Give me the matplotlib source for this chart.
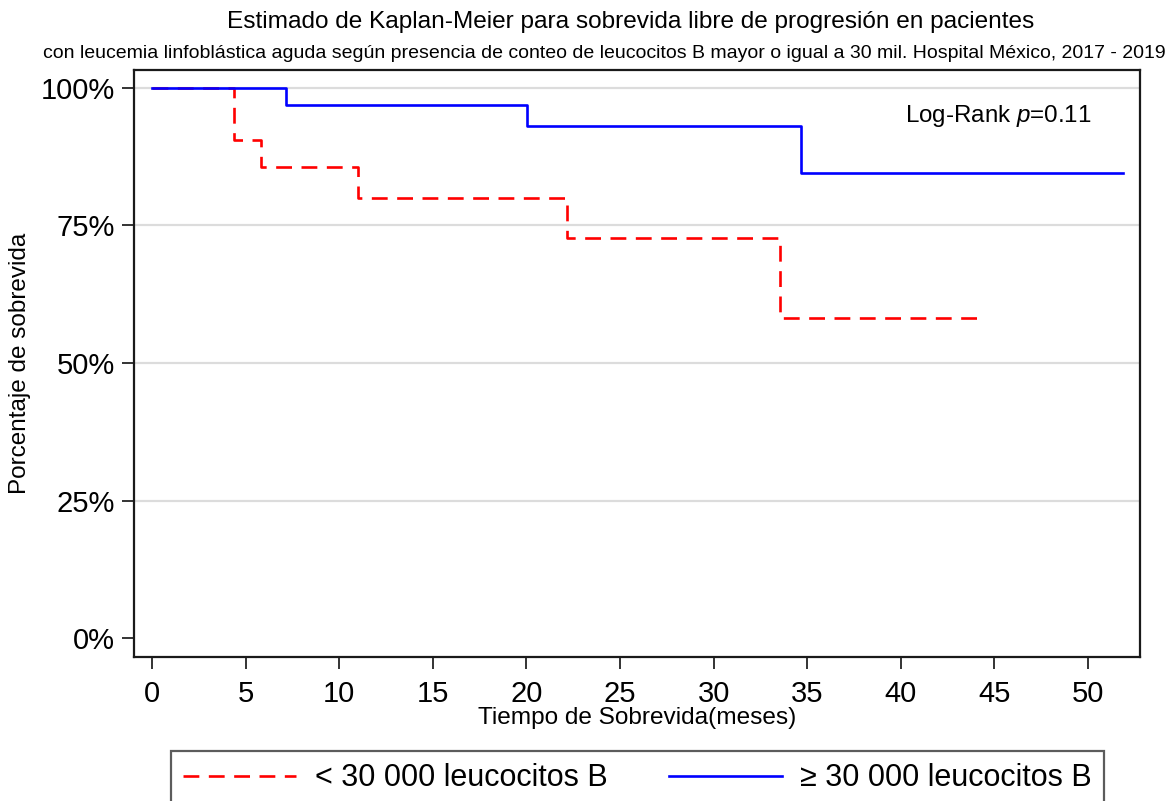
"""
Kaplan-Meier: sobrevida libre de progresion por conteo de leucocitos B.
Writes out.png (1175x801).
"""

import matplotlib
matplotlib.use("Agg")
import matplotlib.pyplot as plt
from matplotlib.lines import Line2D

plt.rcParams["font.family"] = ["Liberation Sans", "DejaVu Sans"]
plt.rcParams["mathtext.fontset"] = "custom"
plt.rcParams["mathtext.rm"] = "Liberation Sans"
plt.rcParams["mathtext.it"] = "Liberation Sans:italic"

# ─── data ──────────────────────────────────────────────────────────
TIME_LOW = [0, 4.38, 5.8, 11.02, 22.15, 33.55, 44.5]
SURV_LOW = [100, 90.5, 85.7, 80.0, 72.7, 58.2, 58.2]
TIME_HIGH = [0, 7.14, 20.05, 34.67, 51.87]
SURV_HIGH = [100, 96.9, 93.0, 84.5, 84.5]

LABEL_LOW = "< 30 000 leucocitos B"
LABEL_HIGH = "≥ 30 000 leucocitos B"

X_TICKS = list(range(0, 55, 5))
Y_TICKS = [0, 25, 50, 75, 100]
Y_TICKLABELS = ["0%", "25%", "50%", "75%", "100%"]
GRID_AT = [25, 50, 75, 100]

TITLE = "Estimado de Kaplan-Meier para sobrevida libre de progresión en pacientes"
SUBTITLE = ("con leucemia linfoblástica aguda según presencia de conteo de leucocitos B "
            "mayor o igual a 30 mil. Hospital México, 2017 - 2019")

W, H = 1175, 801
fig = plt.figure(figsize=(W / 100, H / 100), dpi=100)
fig.patch.set_facecolor("white")

# axes box in pixels: left 134, right 1140, top 70, bottom 657
ax = fig.add_axes([134 / W, 1 - 657 / H, (1140 - 134) / W, (657 - 70) / H])
ax.set_xlim(-0.96, 52.78)
ax.set_ylim(-3.45, 103.27)

for y in GRID_AT:
    ax.axhline(y, color="#dcdcdc", linewidth=1.6, zorder=0)

ax.step(TIME_LOW, SURV_LOW, where="post", color="#ff0000",
        linewidth=1.9, linestyle=(0, (6.0, 3.6)), zorder=2)
ax.step(TIME_HIGH, SURV_HIGH, where="post", color="#0000ff",
        linewidth=1.9, zorder=3)

ax.set_xticks(X_TICKS)
ax.set_yticks(Y_TICKS)
ax.set_yticklabels(Y_TICKLABELS)
ax.tick_params(axis="both", labelsize=21, length=8.5, width=1.4,
               color="#333333", pad=5)
ax.tick_params(axis="x", pad=8)
for s in ax.spines.values():
    s.set_linewidth(1.6)
    s.set_color("#1a1a1a")

fig.text(631 / W, 1 - 22 / H, TITLE, ha="center", va="center", fontsize=17.6)
fig.text(604 / W, 1 - 54 / H, SUBTITLE, ha="center", va="center", fontsize=14)
fig.text(20 / W, 1 - 363 / H, "Porcentaje de sobrevida", ha="center",
         va="center", rotation=90, fontsize=17.5)
fig.text(637 / W, 1 - 718 / H, "Tiempo de Sobrevida(meses)", ha="center",
         va="center", fontsize=17.6)
fig.text(905 / W, 1 - 116 / H, r"Log-Rank $\it{p}$=0.11", ha="left",
         va="center", fontsize=17.4)

handles = [
    Line2D([], [], color="#ff0000", linewidth=1.9, linestyle=(0, (6.0, 3.6))),
    Line2D([], [], color="#0000ff", linewidth=1.9),
]
leg = fig.legend(handles, [LABEL_LOW, LABEL_HIGH], loc="upper center",
                 bbox_to_anchor=(637.5 / W, 1 - 751 / H), ncol=2,
                 fontsize=22, frameon=True, fancybox=False,
                 edgecolor="#333333", handlelength=3.7, handletextpad=0.6,
                 columnspacing=2.0, borderpad=0.4, borderaxespad=0)
leg.get_frame().set_linewidth(1.6)

fig.savefig("out.png", dpi=100, facecolor="white")
